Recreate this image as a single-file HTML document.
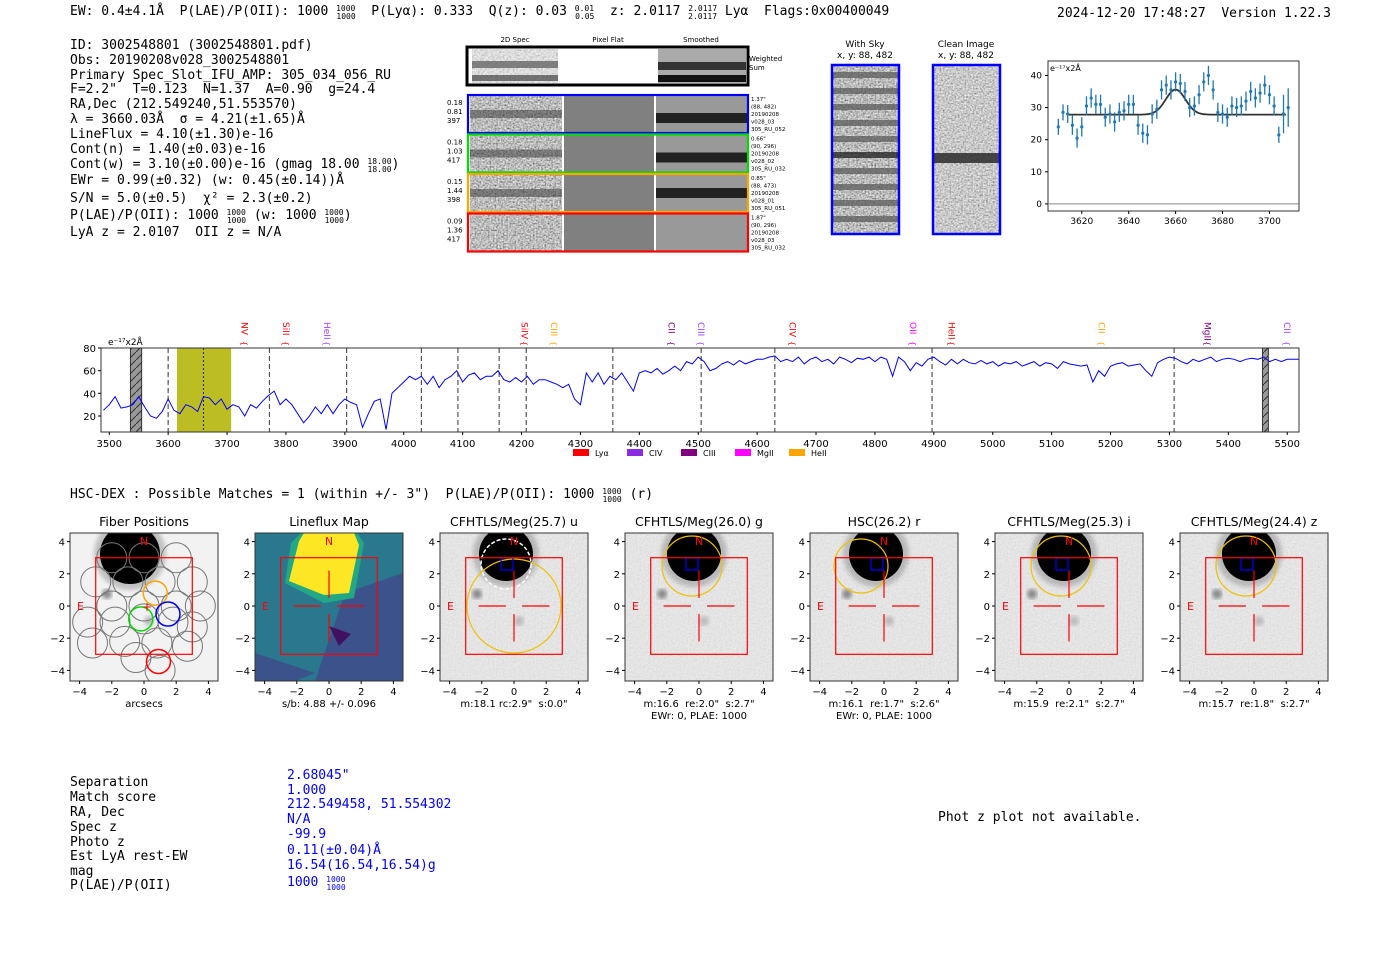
<!DOCTYPE html>
<html><head><meta charset="utf-8"><style>
html,body{margin:0;padding:0;background:#fff;}
svg{display:block;}
text{white-space:pre;}
.m{font-family:"DejaVu Sans Mono","Liberation Mono",monospace;font-size:13px;fill:#000;}
.s{font-family:"DejaVu Sans","Liberation Sans",sans-serif;}
</style></head><body>
<svg id="root" width="1400" height="953" viewBox="0 0 1400 953" xmlns="http://www.w3.org/2000/svg" xml:space="preserve">
<defs>
<pattern id="hatch" width="8" height="8" patternUnits="userSpaceOnUse"><rect width="8" height="8" fill="#999"/><path d="M0 8 L8 0" stroke="#333" stroke-width="1"/></pattern>
<filter id="noise" x="0" y="0" width="1" height="1"><feTurbulence type="fractalNoise" baseFrequency="0.6" numOctaves="1" seed="3"/><feColorMatrix type="saturate" values="0"/><feComponentTransfer><feFuncR type="linear" slope="1.6" intercept="-0.3"/><feFuncG type="linear" slope="1.6" intercept="-0.3"/><feFuncB type="linear" slope="1.6" intercept="-0.3"/><feFuncA type="linear" slope="0" intercept="1"/></feComponentTransfer></filter>
<filter id="blur"><feGaussianBlur stdDeviation="2"/></filter>
</defs>

<text class="m" x="70" y="15">EW: 0.4±4.1Å  P(LAE)/P(OII): 1000 <tspan font-size="8" dy="-4">1000</tspan><tspan font-size="8" dx="-19" dy="8">1000</tspan><tspan dy="-4">  P(Lyα): 0.333  Q(z): 0.03 </tspan><tspan font-size="8" dy="-4">0.01</tspan><tspan font-size="8" dx="-19" dy="8">0.05</tspan><tspan dy="-4">  z: 2.0117 </tspan><tspan font-size="8" dy="-4">2.0117</tspan><tspan font-size="8" dx="-29" dy="8">2.0117</tspan><tspan dy="-4"> Lyα  Flags:0x00400049</tspan></text>
<text class="m" x="1057" y="17">2024-12-20 17:48:27  Version 1.22.3</text>

<g>
<text class="m" x="70" y="49">ID: 3002548801 (3002548801.pdf)</text>
<text class="m" x="70" y="64">Obs: 20190208v028_3002548801</text>
<text class="m" x="70" y="79">Primary Spec_Slot_IFU_AMP: 305_034_056_RU</text>
<text class="m" x="70" y="93">F=2.2"  T=0.123  N=1.37  A=0.90  g=24.4</text>
<text class="m" x="70" y="108">RA,Dec (212.549240,51.553570)</text>
<text class="m" x="70" y="123">λ = 3660.03Å  σ = 4.21(±1.65)Å</text>
<text class="m" x="70" y="138">LineFlux = 4.10(±1.30)e-16</text>
<text class="m" x="70" y="153">Cont(n) = 1.40(±0.03)e-16</text>
<text class="m" x="70" y="168">Cont(w) = 3.10(±0.00)e-16 (gmag 18.00 <tspan font-size="8" dy="-4">18.00</tspan><tspan font-size="8" dx="-24" dy="8">18.00</tspan><tspan dy="-4">)</tspan></text>
<text class="m" x="70" y="184">EWr = 0.99(±0.32) (w: 0.45(±0.14))Å</text>
<text class="m" x="70" y="202">S/N = 5.0(±0.5)  χ² = 2.3(±0.2)</text>
<text class="m" x="70" y="219">P(LAE)/P(OII): 1000 <tspan font-size="8" dy="-4">1000</tspan><tspan font-size="8" dx="-19" dy="8">1000</tspan><tspan dy="-4"> (w: 1000 </tspan><tspan font-size="8" dy="-4">1000</tspan><tspan font-size="8" dx="-19" dy="8">1000</tspan><tspan dy="-4">)</tspan></text>
<text class="m" x="70" y="236">LyA z = 2.0107  OII z = N/A</text>
</g>

<g class="s" font-size="7">
<text x="515" y="42" text-anchor="middle">2D Spec</text>
<text x="608" y="42" text-anchor="middle">Pixel Flat</text>
<text x="701" y="42" text-anchor="middle">Smoothed</text>
<rect x="467" y="47" width="281" height="38" fill="#fff" stroke="#000" stroke-width="3"/>
<rect x="472" y="49" width="86" height="34" fill="#bbb" filter="url(#noise)" opacity="0.5"/>
<rect x="472" y="61" width="86" height="7" fill="#555" opacity="0.7"/><rect x="472" y="75" width="86" height="6" fill="#444" opacity="0.7"/>
<rect x="658" y="49" width="88" height="34" fill="#aaa"/>
<rect x="658" y="62" width="88" height="8" fill="#333"/><rect x="658" y="75" width="88" height="7" fill="#111"/>
<text x="749" y="61">Weighted</text><text x="749" y="70">Sum</text>
<g id="rows2d"></g>
</g>

<g class="s" font-size="9">
<text x="865" y="47" text-anchor="middle">With Sky</text><text x="865" y="58" text-anchor="middle">x, y: 88, 482</text>
<text x="966" y="47" text-anchor="middle">Clean Image</text><text x="966" y="58" text-anchor="middle">x, y: 88, 482</text>
<rect x="832" y="65" width="67" height="169" fill="#999" filter="url(#noise)"/>
<g id="skybands"></g>
<rect x="832" y="65" width="67" height="169" fill="none" stroke="#00f" stroke-width="2.5"/>
<rect x="933" y="65" width="67" height="169" fill="#bbb" filter="url(#noise)" opacity="0.8"/>
<rect x="933" y="153" width="67" height="10" fill="#222" opacity="0.8"/>
<rect x="933" y="65" width="67" height="169" fill="none" stroke="#00f" stroke-width="2.5"/>
</g>

<g id="fitchart"></g>
<g id="spec"></g>

<text class="m" x="70" y="498">HSC-DEX : Possible Matches = 1 (within +/- 3")  P(LAE)/P(OII): 1000 <tspan font-size="8" dy="-4">1000</tspan><tspan font-size="8" dx="-19" dy="8">1000</tspan><tspan dy="-4"> (r)</tspan></text>

<g id="cutouts"></g>

<g>
<text class="m" x="70" y="786">Separation</text><text class="m" x="70" y="801">Match score</text>
<text class="m" x="70" y="816">RA, Dec</text><text class="m" x="70" y="831">Spec z</text>
<text class="m" x="70" y="846">Photo z</text><text class="m" x="70" y="860">Est LyA rest-EW</text>
<text class="m" x="70" y="875">mag</text><text class="m" x="70" y="889">P(LAE)/P(OII)</text>
<text class="m" x="287" y="779" style="fill:#00f">2.68045"</text>
<text class="m" x="287" y="794" style="fill:#00f">1.000</text>
<text class="m" x="287" y="808" style="fill:#00f">212.549458, 51.554302</text>
<text class="m" x="287" y="823" style="fill:#00f">N/A</text>
<text class="m" x="287" y="838" style="fill:#00f">-99.9</text>
<text class="m" x="287" y="854" style="fill:#00f">0.11(±0.04)Å</text>
<text class="m" x="287" y="869" style="fill:#00f">16.54(16.54,16.54)g</text>
<text class="m" x="287" y="886" style="fill:#00f">1000 <tspan font-size="8" dy="-4">1000</tspan><tspan font-size="8" dx="-19" dy="8">1000</tspan></text>
</g>
<text class="m" x="938" y="821">Phot z plot not available.</text>
</svg>
<script>
const NS="http://www.w3.org/2000/svg";
function mk(tag,attrs,parent){const e=document.createElementNS(NS,tag);for(const k in attrs)e.setAttribute(k,attrs[k]);if(parent)parent.appendChild(e);return e;}

const fitWaves=[3610,3612,3614,3616,3618,3620,3622,3624,3626,3628,3630,3632,3634,3636,3638,3640,3642,3644,3646,3648,3650,3652,3654,3656,3658,3660,3662,3664,3666,3668,3670,3672,3674,3676,3678,3680,3682,3684,3686,3688,3690,3692,3694,3696,3698,3700,3702,3704,3706,3708];
const fitFlux=[24,28.5,28,24.5,20.5,24,30.5,33,31,31,27,28,25.5,28.5,29,31,31,24.5,22,21.5,28,29.5,35.5,37,35.5,38,37.5,35,30,30.5,34,38,40,35.5,28.5,28,27,30.5,30,30.5,32,35,33,34.5,37,34,30.5,21.5,28,30];
const fitErr=[2.5,2.5,2.8,3,3,3,3,3,3,3,3,3,3,3,3,3,3,3,3,3,3,3,3,3,3,3,3,3,3,3,3,3,3,3,3,3,3,3,3,3,3,3,3,3,3,3,3,2.5,6,6];
const fitModel={base:27.8,amp:7.8,mu:3660,sigma:4.2,lo:3614,hi:3707};
const fitYTicks=[0,10,20,30,40];
const fitXTicks=[3620,3640,3660,3680,3700];

const specStart=3490, specStep=10;
const specFlux=[25,30,37,27,28,30,37,28,20,18,24,35,25,22,30,28,24,37,36,30,35,26,30,28,20,30,27,33,38,42,30,35,30,22,14,20,28,22,30,22,30,35,32,30,10,22,33,35,8,40,45,50,55,52,55,48,55,45,52,55,60,50,56,58,52,55,55,60,52,50,54,50,55,48,52,52,50,48,45,48,35,30,58,50,58,48,55,52,58,50,42,58,60,58,62,57,60,64,60,68,66,72,68,60,62,66,68,65,69,66,68,70,70,72,73,68,70,68,72,66,70,72,68,70,66,72,70,67,71,70,72,68,72,70,55,72,68,60,67,64,70,72,68,65,70,66,70,67,66,69,66,68,64,67,66,68,64,66,68,64,67,66,62,68,66,65,64,65,50,60,55,64,66,67,64,65,66,60,55,67,70,72,71,68,66,70,68,70,72,68,70,71,70,68,70,71,70,72,68,70,68,70,70,70];
const specXTicks=[3500,3600,3700,3800,3900,4000,4100,4200,4300,4400,4500,4600,4700,4800,4900,5000,5100,5200,5300,5400,5500];
const specYTicks=[20,40,60,80];
const dashLines=[3600,3772,3903,4030,4092,4162,4208,4355,4505,4630,4897,5308];
const lineNames=["NV","SiII","HeII","SiIV","CIII","CII","CIII","CIV","OII","HeII","CII","MgII","CII"];
const lineWaves=[3730,3800,3870,4205,4255,4455,4505,4660,4865,4930,5185,5365,5500];
const lineColors=["#f00","#f00","#a040ff","#f00","#ffa500","#800080","#a040ff","#f00","#ff00ff","#f00","#ffa500","#800080","#a040ff"];
const legendNames=["Lyα","CIV","CIII","MgII","HeII"];
const legendColors=["#f00","#8a2be2","#800080","#ff00ff","#ffa500"];

(function(){
 const g=document.getElementById('rows2d');
 const rows=[["0.18","0.81","397","#00f",["1.37\"","(88, 482)","20190208","v028_03","305_RU_052"]],
  ["0.18","1.03","417","#0d0",["0.66\"","(90, 296)","20190208","v028_02","305_RU_032"]],
  ["0.15","1.44","398","#ffa500",["0.85\"","(88, 473)","20190208","v028_01","305_RU_051"]],
  ["0.09","1.36","417","#f00",["1.87\"","(90, 296)","20190208","v028_03","305_RU_032"]]];
 rows.forEach((r,i)=>{
  const y=95+i*39.5;
  const grp=mk('g',{},g);
  
  
  mk('rect',{x:470,y:y,width:92,height:38,fill:'#888',filter:'url(#noise)'},grp);
  mk('rect',{x:564,y:y,width:90,height:38,fill:'#808080'},grp);
  mk('rect',{x:656,y:y,width:91,height:38,fill:'#999'},grp);
  if(i<3){mk('rect',{x:470,y:y+15,width:92,height:8,fill:'#333',opacity:0.5},grp);
   mk('rect',{x:656,y:y+(i==2?14:18),width:91,height:10,fill:'#222'},grp);}
  mk('rect',{x:468,y:y,width:280,height:38,fill:'none',stroke:r[3],'stroke-width':2.2},grp);
  [r[0],r[1],r[2]].forEach((t,k)=>{const e=mk('text',{x:447,y:y+10+k*9,'font-size':7},grp);e.textContent=t;});
  r[4].forEach((t,k)=>{const e=mk('text',{x:751,y:y+6+k*7.5,'font-size':5.5},grp);e.textContent=t;});
 });
 const sb=document.getElementById('skybands');
 for(let k=0;k<10;k++){const yy=72+k*16;mk('rect',{x:832,y:yy,width:67,height:6,fill:k==5?'#111':'#555',opacity:0.7},sb);}
})();

(function(){
 const g=document.getElementById('fitchart');
 const L=1048,R=1299,T=61,B=211,x0=3605.6,x1=3712.6,y0=-2.2,y1=44.5;
 const X=v=>L+(v-x0)/(x1-x0)*(R-L), Y=v=>B-(v-y0)/(y1-y0)*(B-T);
 mk('rect',{x:L,y:T,width:R-L,height:B-T,fill:'#fff',stroke:'#333','stroke-width':1},g);
 mk('line',{x1:L,x2:R,y1:Y(0),y2:Y(0),stroke:'#888','stroke-width':1},g);
 fitYTicks.forEach(v=>{mk('line',{x1:L-3,x2:L,y1:Y(v),y2:Y(v),stroke:'#000'},g);const t=mk('text',{x:L-6,y:Y(v)+3,'font-size':9,'text-anchor':'end',class:'s'},g);t.textContent=v;});
 fitXTicks.forEach(v=>{mk('line',{x1:X(v),x2:X(v),y1:B,y2:B+3,stroke:'#000'},g);const t=mk('text',{x:X(v),y:B+13,'font-size':9,'text-anchor':'middle',class:'s'},g);t.textContent=v;});
 const lab=mk('text',{x:L+2,y:T+10,'font-size':8,class:'s'},g);lab.textContent='e⁻¹⁷x2Å';
 let d='';for(let w=fitModel.lo;w<=fitModel.hi;w+=0.5){const v=fitModel.base+fitModel.amp*Math.exp(-0.5*((w-fitModel.mu)/fitModel.sigma)**2);d+=(d?'L':'M')+X(w).toFixed(1)+' '+Y(v).toFixed(1);}
 const p=mk('path',{d:d,fill:'none',stroke:'#333','stroke-width':1.8},g);
 
 
 fitWaves.forEach((w,i)=>{
  const e=mk('line',{x1:X(w),x2:X(w),y1:Y(fitFlux[i]-fitErr[i]),y2:Y(fitFlux[i]+fitErr[i]),stroke:'#1f77b4','stroke-width':1.3},g);
  
  
  const c=mk('circle',{cx:X(w),cy:Y(fitFlux[i]),r:1.6,fill:'#1f77b4'},g);
  
  
 });
})();

(function(){
 const g=document.getElementById('spec');
 const L=101,R=1299,T=348,B=432,x0=3486,x1=5520,y0=5.9,y1=80;
 const X=v=>L+(v-x0)/(x1-x0)*(R-L), Y=v=>B-(v-y0)/(y1-y0)*(B-T);
 mk('rect',{x:L,y:T,width:R-L,height:B-T,fill:'#fff'},g);
 mk('rect',{x:X(3615),y:T,width:X(3707)-X(3615),height:B-T,fill:'#bcbd22'},g);
 [[3536,3555],[5458,5468]].forEach(b=>mk('rect',{x:X(b[0]),y:T,width:X(b[1])-X(b[0]),height:B-T,fill:'url(#hatch)',stroke:'#333'},g));
 mk('line',{x1:X(3660),x2:X(3660),y1:T,y2:B,stroke:'#222','stroke-dasharray':'2,2'},g);
 dashLines.forEach(v=>mk('line',{x1:X(v),x2:X(v),y1:T,y2:B,stroke:'#555','stroke-width':1.2,'stroke-dasharray':'5,3'},g));
 let d='';specFlux.forEach((v,i)=>{const w=specStart+i*specStep;if(w<x0||w>x1)return;d+=(d?'L':'M')+X(w).toFixed(1)+' '+Y(v).toFixed(1);});
 const p=mk('path',{d:d,fill:'none',stroke:'#00f','stroke-width':1},g);
 
 
 mk('rect',{x:L,y:T,width:R-L,height:B-T,fill:'none',stroke:'#333'},g);
 specYTicks.forEach(v=>{mk('line',{x1:L-3,x2:L,y1:Y(v),y2:Y(v),stroke:'#000'},g);const t=mk('text',{x:L-5,y:Y(v)+4,'font-size':10,'text-anchor':'end',class:'s'},g);t.textContent=v;});
 specXTicks.forEach(v=>{mk('line',{x1:X(v),x2:X(v),y1:B,y2:B+3,stroke:'#000'},g);const t=mk('text',{x:X(v),y:B+15,'font-size':10,'text-anchor':'middle',class:'s'},g);t.textContent=v;});
 const lab=mk('text',{x:108,y:345,'font-size':9,class:'s'},g);lab.textContent='e⁻¹⁷x2Å';
 lineNames.forEach((n,i)=>{const x=X(lineWaves[i]);
  const t=mk('text',{x:0,y:0,'font-size':9,fill:lineColors[i],class:'s',transform:`translate(${x-3},${T-26}) rotate(90)`},g);t.textContent=n;
  
  
  const b=mk('text',{x:0,y:0,'font-size':8,fill:lineColors[i],class:'s',transform:`translate(${x-3},${T-7}) rotate(90)`},g);b.textContent='{';});
 legendNames.forEach((n,i)=>{const x=573+i*54;
  const lg=mk('g',{},g);
  
  
  mk('rect',{x:x,y:449,width:16,height:7,fill:legendColors[i]},lg);
  const t=mk('text',{x:x+22,y:456,'font-size':8,class:'s'},lg);t.textContent=n;});
})();

(function(){
 const g=document.getElementById('cutouts');
 const titles=["Fiber Positions","Lineflux Map","CFHTLS/Meg(25.7) u","CFHTLS/Meg(26.0) g","HSC(26.2) r","CFHTLS/Meg(25.3) i","CFHTLS/Meg(24.4) z"];
 const sub1=["arcsecs","s/b: 4.88 +/- 0.096","m:18.1 rc:2.9\"  s:0.0\"","m:16.6  re:2.0\"  s:2.7\"","m:16.1  re:1.7\"  s:2.6\"","m:15.9  re:2.1\"  s:2.7\"","m:15.7  re:1.8\"  s:2.7\""];
 const sub2=["","","","EWr: 0, PLAE: 1000","EWr: 0, PLAE: 1000","",""];
 const ticks=[-4,-2,0,2,4];
 titles.forEach((ti,i)=>{
  const L=70+i*185,T=533,S=148,cx=L+74,cy=T+73,k=16.1;
  const P=mk('g',{},g);
  
  
  const cp='cp'+i;const c=mk('clipPath',{id:cp},P);mk('rect',{x:L,y:T,width:S,height:S},c);
  const inner=mk('g',{'clip-path':`url(#${cp})`},P);
  if(i==1){
   mk('rect',{x:L,y:T,width:S,height:S,fill:'#2a788e'},inner);
   mk('polygon',{points:`${L+90},${T+60} ${L+148},${T+40} ${L+148},${T+148} ${L+60},${T+148}`,fill:'#3b528b'},inner);
   mk('polygon',{points:`${cx-44},${T+50} ${cx-38},${T+10} ${cx-28},${T} ${cx+28},${T} ${cx+35},${T+10} ${cx+25},${T+65} ${cx-5},${T+70}`,fill:'#22a884'},inner);
   mk('polygon',{points:`${cx-40},${T+48} ${cx-30},${T+8} ${cx-25},${T} ${cx+25},${T} ${cx+30},${T+12} ${cx+20},${T+60} ${cx-5},${T+62}`,fill:'#fde725'},inner);
   mk('polygon',{points:`${cx},${cy+20} ${cx+22},${cy+28} ${cx+10},${cy+40}`,fill:'#440154',opacity:0.8},inner);
   mk('polygon',{points:`${L},${T+120} ${L+60},${T+140} ${L+40},${T+148} ${L},${T+148}`,fill:'#3b528b'},inner);
  } else {
   mk('rect',{x:L,y:T,width:S,height:S,fill:i==0?'#f2f2f2':'#ececec'},inner);
   if(i>=2) mk('rect',{x:L,y:T,width:S,height:S,fill:'#ccc',filter:'url(#noise)',opacity:0.15},inner);
   const sx=cx-(i==0?14:i==4?8:i==2?8:5), sy=cy-52, sr=i==0?30:27;
   mk('circle',{cx:sx,cy:sy,r:sr+6,fill:'#777',opacity:0.4,filter:'url(#blur)'},inner);
   mk('circle',{cx:sx,cy:sy,r:sr,fill:'#000'},inner);
   mk('circle',{cx:cx-37,cy:cy-12,r:5,fill:'#888',filter:'url(#blur)'},inner);
   mk('circle',{cx:cx+5,cy:cy+15,r:5,fill:'#bbb',filter:'url(#blur)'},inner);
  }
  if(i==0){
   const fib=[[-2,3],[0,3],[2,3],[-3,1.5],[-1,1.5],[1,1.5],[3,1.5],[-2,0],[0,0],[2,0],[3.5,0],[-3.5,-1],[-1.8,-1],[0,-0.8],[1.8,-1],[3,-1.3],[-3.2,-2.3],[-1.2,-2.2],[0.8,-2.3],[2.7,-2.5],[-0.5,-3.2],[1,-4]];
   fib.forEach(f=>mk('circle',{cx:cx+f[0]*k,cy:cy-f[1]*k,r:15,fill:'none',stroke:'#777','stroke-width':1},inner));
   [[0.7,0.8,'#ffa500'],[-0.2,-0.8,'#0d0'],[1.8,-0.5,'#00f'],[0.9,-2.7,'#f00']].forEach(f=>mk('circle',{cx:cx+f[0]*k-(f[2]=='#00f'?5:0),cy:cy-f[1]*k-(f[2]=='#f00'?-12:0),r:12,fill:'none',stroke:f[2],'stroke-width':1.5},inner));
   mk('text',{x:cx-2,y:cy+5,fill:'#f00','font-size':12,class:'s'},inner).textContent='+';
  }
  if(i==2){mk('circle',{cx:cx-8,cy:cy-42,r:25,fill:'none',stroke:'#fff','stroke-dasharray':'4,2','stroke-width':1.5},inner);
   mk('circle',{cx:cx,cy:cy,r:47,fill:'none',stroke:'#f0c000','stroke-width':1.2},inner);}
  if(i>=3){mk('circle',{cx:cx-(i==4?23:i==3?7:8),cy:cy-40,r:i==4?27:30,fill:'none',stroke:'#f0c000','stroke-width':1.2},inner);}
  if(i>=2) mk('rect',{x:cx-13,y:cy-48,width:12,height:12,fill:'none',stroke:'#00f','stroke-width':1.2},inner);
  mk('rect',{x:cx-3*k,y:cy-3*k,width:6*k,height:6*k,fill:'none',stroke:'#f00','stroke-width':1.2},inner);
  if(i>0){[[cx-2.2*k,cy,cx-0.5*k,cy],[cx+0.5*k,cy,cx+2.2*k,cy],[cx,cy-2.2*k,cx,cy-0.5*k],[cx,cy+0.5*k,cx,cy+2.2*k]].forEach(l=>mk('line',{x1:l[0],y1:l[1],x2:l[2],y2:l[3],stroke:'#f00','stroke-width':1.2},inner));}
  mk('text',{x:cx,y:T+12,fill:'#f00','font-size':11,'text-anchor':'middle',class:'s'},inner).textContent='N';
  mk('text',{x:L+7,y:cy+4,fill:'#f00','font-size':11,class:'s'},inner).textContent='E';
  mk('rect',{x:L,y:T,width:S,height:S,fill:'none',stroke:'#333'},P);
  const tt=mk('text',{x:cx,y:T-7,'font-size':12.5,'text-anchor':'middle',class:'s'},P);tt.textContent=ti;
  ticks.forEach(v=>{
   mk('line',{x1:cx+v*k,x2:cx+v*k,y1:T+S,y2:T+S+3,stroke:'#000'},P);
   mk('text',{x:cx+v*k,y:T+S+14,'font-size':10,'text-anchor':'middle',class:'s'},P).textContent=(v<0?'−':'')+Math.abs(v);
   mk('line',{x1:L-3,x2:L,y1:cy-v*k,y2:cy-v*k,stroke:'#000'},P);
   mk('text',{x:L-5,y:cy-v*k+4,'font-size':10,'text-anchor':'end',class:'s'},P).textContent=(v<0?'−':'')+Math.abs(v);
  });
  mk('text',{x:cx,y:T+S+26,'font-size':10,'text-anchor':'middle',class:'s'},P).textContent=sub1[i];
  if(sub2[i]) mk('text',{x:cx,y:T+S+38,'font-size':10,'text-anchor':'middle',class:'s'},P).textContent=sub2[i];
 });
})();
</script>
</body></html>
